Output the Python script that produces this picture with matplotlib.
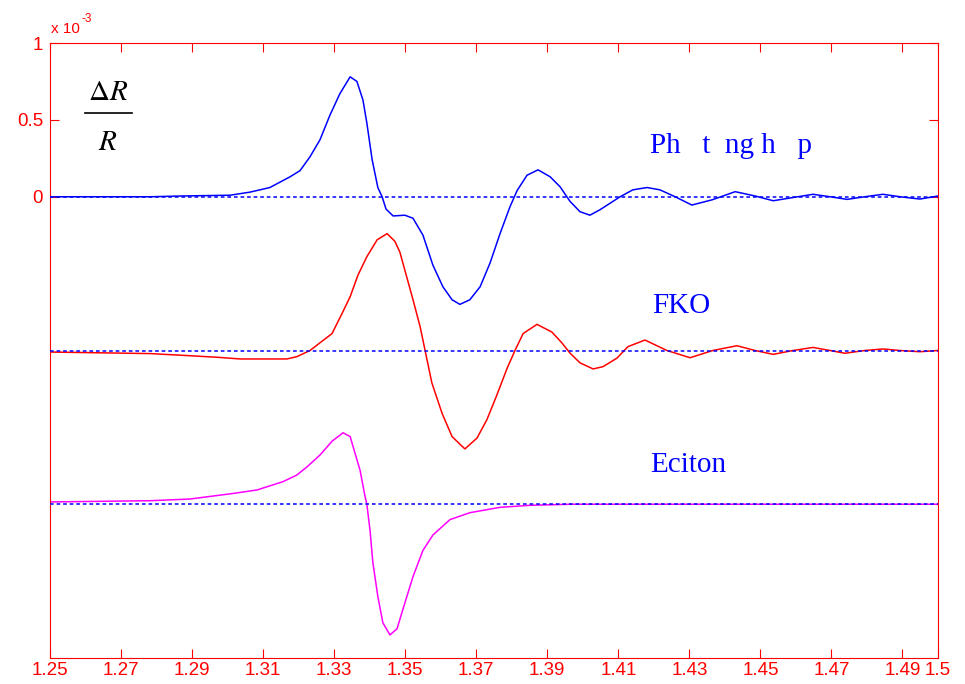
import matplotlib
matplotlib.use("Agg")
import matplotlib.pyplot as plt
from matplotlib import font_manager

plt.rcParams["mathtext.fontset"] = "stix"

RED = "#ff0000"
BLUE = "#0000ff"
MAG = "#ff00ff"

# ---- data (units of 1e-3) ----
x_sum = [1.25, 1.2782, 1.2872, 1.3007, 1.3063, 1.3119, 1.3176, 1.3204, 1.3232,
         1.3260, 1.3288, 1.3316, 1.3345, 1.3364, 1.3381, 1.3392, 1.3407, 1.3423,
         1.3435, 1.3446, 1.3466, 1.3499, 1.3522, 1.3550, 1.3578, 1.3606, 1.3632,
         1.3654, 1.3682, 1.3711, 1.3739, 1.3767, 1.3795, 1.3815, 1.3843, 1.3874,
         1.3908, 1.3936, 1.3964, 1.3992, 1.4020, 1.4048, 1.4085, 1.4105, 1.4141,
         1.4181, 1.4217, 1.4260, 1.4307, 1.4364, 1.4429, 1.4485, 1.4536, 1.4592,
         1.4648, 1.4696, 1.4744, 1.4794, 1.4845, 1.4893, 1.4949, 1.5]
y_sum = [0.0, 0.0, 0.005, 0.01, 0.03, 0.06, 0.13, 0.17, 0.26,
         0.37, 0.53, 0.67, 0.78, 0.75, 0.63, 0.48, 0.24, 0.06,
         0.0, -0.08, -0.125, -0.12, -0.14, -0.25, -0.445, -0.585, -0.67,
         -0.70, -0.67, -0.585, -0.43, -0.24, -0.065, 0.04, 0.14, 0.175,
         0.13, 0.065, -0.03, -0.097, -0.12, -0.085, -0.03, 0.0, 0.045,
         0.06, 0.045, 0.0, -0.054, -0.02, 0.033, 0.005, -0.026, -0.005,
         0.016, 0.0, -0.017, 0.0, 0.016, 0.0, -0.015, 0.005]

x_fko = [1.25, 1.2641, 1.2782, 1.2894, 1.2970, 1.3035, 1.3167, 1.3195, 1.3232,
         1.3260, 1.3294, 1.3322, 1.3345, 1.3367, 1.3392, 1.3421, 1.3449, 1.3471,
         1.3485, 1.3522, 1.3542, 1.3556, 1.3575, 1.3604, 1.3632, 1.3668, 1.3702,
         1.3730, 1.3758, 1.3787, 1.3809, 1.3832, 1.3871, 1.3913, 1.3941, 1.3964,
         1.3992, 1.4029, 1.4057, 1.4096, 1.4127, 1.4175, 1.4237, 1.4302, 1.4366,
         1.4434, 1.4485, 1.4536, 1.4592, 1.4648, 1.4696, 1.4738, 1.4794, 1.4845,
         1.4893, 1.4949, 1.5]
y_fko = [-0.01, -0.015, -0.02, -0.034, -0.044, -0.055, -0.055, -0.04, 0.0,
         0.05, 0.11, 0.24, 0.35, 0.49, 0.61, 0.72, 0.76, 0.71,
         0.64, 0.33, 0.155, 0.0, -0.21, -0.41, -0.56, -0.64, -0.57,
         -0.45, -0.29, -0.115, 0.0, 0.11, 0.17, 0.12, 0.05, -0.017,
         -0.08, -0.12, -0.105, -0.05, 0.025, 0.068, 0.0, -0.047, 0.0,
         0.031, 0.0, -0.025, 0.0, 0.02, 0.0, -0.018, 0.0, 0.01,
         0.0, -0.008, 0.0]

x_exc = [1.25, 1.2782, 1.2894, 1.3015, 1.3083, 1.3156, 1.3195, 1.3224, 1.3260,
         1.3294, 1.3325, 1.3345, 1.3359, 1.3373, 1.3387, 1.3392, 1.3401, 1.3409,
         1.3423, 1.3437, 1.3457, 1.3477, 1.3494, 1.3522, 1.3550, 1.3578, 1.3626,
         1.3682, 1.3767, 1.3851, 1.3964, 1.5]
y_exc = [0.015, 0.023, 0.034, 0.07, 0.093, 0.147, 0.19, 0.244, 0.32,
         0.41, 0.465, 0.44, 0.33, 0.22, 0.05, 0.0, -0.17, -0.38,
         -0.6, -0.77, -0.85, -0.81, -0.68, -0.47, -0.30, -0.20, -0.10,
         -0.055, -0.02, -0.007, 0.0, 0.0]

offsets = [0, -1, -2]
labels = ["Ph   t  ng h   p", "FKO", "Eciton"]
x_ticks = [1.25, 1.27, 1.29, 1.31, 1.33, 1.35, 1.37, 1.39, 1.41, 1.43, 1.45, 1.47, 1.49, 1.5]
y_ticks = [0, 0.5, 1]

W, H = 965, 684
fig = plt.figure(figsize=(W / 100, H / 100), dpi=100)
fig.patch.set_facecolor("white")
ax = fig.add_axes([50 / W, (H - 658) / H, 888 / W, 615 / H])

names = {f.name for f in font_manager.fontManager.ttflist}
tick_font = "Liberation Sans Narrow" if "Liberation Sans Narrow" in names else "Liberation Sans"

series = [(x_sum, y_sum, BLUE), (x_fko, y_fko, RED), (x_exc, y_exc, MAG)]
for (xs, ys, c), off in zip(series, offsets):
    ax.plot(xs, [v + off for v in ys], color=c, lw=1.1, zorder=2)
    ax.axhline(off, color=BLUE, lw=1.1, ls=(0, (2.4, 1.9)), zorder=3)

ax.set_xlim(1.25, 1.5)
ax.set_ylim(-3, 1)
ax.set_xticks(x_ticks)
ax.set_xticklabels([f"{t:g}" for t in x_ticks])
ax.set_yticks(y_ticks)
ax.set_yticklabels(["0", "0.5", "1"])
for s in ax.spines.values():
    s.set_color(RED)
    s.set_linewidth(0.8)
ax.tick_params(axis="both", direction="in", length=6.5, width=0.8, color=RED,
               labelcolor=RED, top=True, right=True)
ax.tick_params(axis="x", pad=3)
ax.tick_params(axis="y", pad=5)
for lab in ax.get_xticklabels():
    lab.set_fontfamily(tick_font)
    lab.set_fontsize(15 if tick_font.endswith("Narrow") else 13.5)
for lab in ax.get_yticklabels():
    lab.set_fontfamily("Liberation Sans")
    lab.set_fontsize(13.5)


def ftext(px, py, s, **kw):
    fig.text(px / W, 1 - py / H, s, **kw)


# exponent label
ftext(51, 33, "x 10", fontsize=11, color=RED, family="Liberation Sans", va="baseline")
ftext(82, 22, "-3", fontsize=8.5, color=RED, family="Liberation Sans", va="baseline")

# dR/R fraction
ftext(108, 100, r"$\Delta R$", fontsize=21, color="black", ha="center", va="baseline")
ftext(108, 150, r"$R$", fontsize=21, color="black", ha="center", va="baseline")
fig.add_artist(plt.Line2D([85 / W, 132 / W], [1 - 113 / H, 1 - 113 / H],
                          color="black", lw=1.2))

# curve labels
for lab, (px, py) in zip(labels, [(650, 153), (652, 313), (650, 472)]):
    ftext(px, py, lab, fontsize=21, color=BLUE, family="Liberation Serif",
          va="baseline")

fig.savefig("out.png", dpi=100)
